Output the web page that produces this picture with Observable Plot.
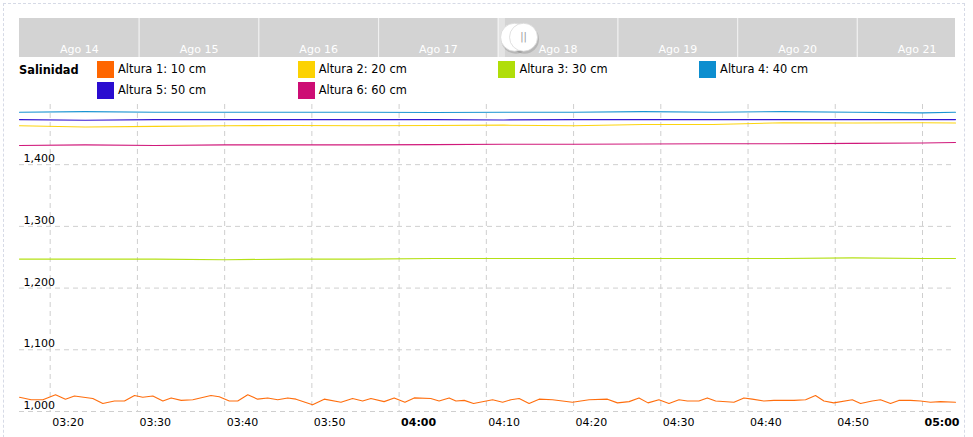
<!DOCTYPE html>
<html><head><meta charset="utf-8">
<script src="https://cdn.jsdelivr.net/npm/d3@7"></script>
<script src="https://cdn.jsdelivr.net/npm/@observablehq/plot@0.6"></script>
<style>
html,body{margin:0;padding:0;background:#fff;}
body{width:973px;height:437px;overflow:hidden;position:relative;font-family:"DejaVu Sans",Verdana,sans-serif;font-size:11px;color:#000;}
#frame{position:absolute;left:3px;top:3px;width:962px;height:480px;border:1px dashed #d6dae6;box-sizing:border-box;}
#nav{position:absolute;left:0;top:18px;}
#chart{position:absolute;left:0;top:100px;}
.lg-title{position:absolute;left:19px;top:63px;font-weight:bold;line-height:14px;font-size:11.4px;}
.lg-item{position:absolute;height:17px;line-height:17px;white-space:nowrap;font-size:11.4px;}
.lg-sw{position:absolute;left:0;top:0;width:17px;height:17px;}
.lg-tx{position:absolute;left:21px;top:0;}
svg{overflow:visible;}
</style></head>
<body>
<div id="frame"></div>
<div id="nav"></div>
<div id="legend"></div>
<div id="chart"></div>
<script>
// ---- data ----
const legendTitle = "Salinidad";
const seriesNames = ["Altura 1: 10 cm","Altura 2: 20 cm","Altura 3: 30 cm","Altura 4: 40 cm","Altura 5: 50 cm","Altura 6: 60 cm"];
const seriesColors = ["#FF6600","#FCD202","#B0DE09","#0D8ECF","#2A0CD0","#CD0D74"];

// Altura 1 (10 cm): readings
const times1 = ["03:16:29","03:17:49","03:19:10","03:20:37","03:21:45","03:22:47","03:24:53","03:26:02","03:27:22","03:28:31",
 "03:29:40","03:30:37","03:31:46","03:32:55","03:33:52","03:35:01","03:36:21","03:38:26","03:39:23","03:40:32",
 "03:41:30","03:42:39","03:43:47","03:44:56","03:46:05","03:47:14","03:48:11","03:50:05","03:51:25","03:53:20",
 "03:54:40","03:55:49","03:56:46","03:58:17","03:59:26","04:00:40","04:01:44","04:03:38","04:04:35","04:05:44",
 "04:06:31","04:07:28","04:08:32","04:10:43","04:11:52","04:12:49","04:13:46","04:14:54","04:16:03","04:17:35",
 "04:19:52","04:21:47","04:23:53","04:25:02","04:26:22","04:27:30","04:28:32","04:29:47","04:30:56","04:32:05",
 "04:33:03","04:34:22","04:35:20","04:36:17","04:38:23","04:39:32","04:40:29","04:41:49","04:42:58","04:45:16",
 "04:46:36","04:47:44","04:48:42","04:49:50","04:51:57","04:52:54","04:54:14","04:55:11","04:56:20","04:57:17",
 "04:58:38","04:59:46","05:00:55","05:02:04","05:03:47"];
const altura1 = [1023,1019,1019,1027,1020,1025,1021,1013,1017,1017,
 1026,1023,1025,1017,1022,1018,1019,1026,1024,1017,
 1017,1027,1020,1022,1019,1022,1020,1011,1020,1015,
 1021,1017,1021,1016,1022,1015,1022,1021,1017,1022,
 1017,1018,1013,1019,1015,1019,1021,1013,1020,1019,
 1015,1019,1020,1014,1016,1022,1014,1019,1013,1019,
 1017,1017,1022,1017,1015,1022,1020,1017,1018,1018,
 1019,1026,1017,1014,1019,1013,1017,1019,1013,1018,
 1018,1017,1015,1016,1015];

// Alturas 2-6: readings
const timesB = ["03:16:29","03:24:00","03:32:00","03:40:00","03:48:00","03:56:00","04:04:00","04:12:00",
 "04:20:00","04:28:00","04:36:00","04:44:00","04:52:00","05:00:00","05:03:47"];
const altura2 = [1463,1461,1462,1463,1463.5,1463,1463.5,1464,1463,1465,1465,1468,1467.5,1468,1467.5];
const altura3 = [1247,1247,1247,1246,1247,1247,1248,1248,1248,1248,1248,1248,1249,1248,1248];
const altura4 = [1485,1486,1485,1485,1485,1485,1484.5,1485,1485,1486,1485,1486,1485,1484,1485];
const altura5 = [1473,1472,1473,1473,1473,1473,1473,1472.5,1473,1473,1473,1473,1473,1473,1473];
const altura6 = [1431,1432,1431,1432,1432,1432,1432.5,1433,1433,1433.5,1434,1434,1434.5,1435,1436];

const xDomain = ["03:16:29","05:03:47"];
const yDomain = [1000, 1497.5];
const yTicks = [1000,1100,1200,1300,1400];
const xTicks = ["03:20","03:30","03:40","03:50","04:00","04:10","04:20","04:30","04:40","04:50","05:00"];
const xTicksBold = ["04:00","05:00"];

// navigator
const navDays = ["Ago 14","Ago 15","Ago 16","Ago 17","Ago 18","Ago 19","Ago 20","Ago 21"];
const navSpanDays = [0, 7.82];
const navSelectedDay = 4;            // Ago 18
const navHighlight = [4.0, 4.06];
const navHandles = ["03:16:29","05:03:47"];

// ---- helpers ----
const parseT = s => { const [h,m,sec=0] = s.split(":").map(Number); return new Date(Date.UTC(2015,7,18,h,m,sec)); };
const dayFrac = s => { const [h,m,sec=0] = s.split(":").map(Number); return (h*3600+m*60+sec)/86400; };
const FONT = '"DejaVu Sans", Verdana, sans-serif';

// ---- legend ----
const legend = document.getElementById("legend");
const t = document.createElement("div"); t.className="lg-title"; t.textContent = legendTitle; legend.appendChild(t);
seriesNames.forEach((n,i)=>{
  const col = i % 4, row = Math.floor(i/4);
  const it = document.createElement("div"); it.className="lg-item";
  it.style.left = (97 + col*200.7) + "px"; it.style.top = (61 + row*21) + "px";
  const sw = document.createElement("div"); sw.className="lg-sw"; sw.style.background = seriesColors[i];
  const tx = document.createElement("div"); tx.className="lg-tx"; tx.textContent = n;
  it.appendChild(sw); it.appendChild(tx); legend.appendChild(it);
});

// ---- navigator ----
const handleX = navHandles.map(s => navSelectedDay + dayFrac(s));
const nav = Plot.plot({
  width: 973, height: 39, marginLeft: 19, marginRight: 18, marginTop: 0, marginBottom: 0,
  x: {domain: navSpanDays, axis: null},
  y: {domain: [0, 1], axis: null},
  style: {fontFamily: FONT, fontSize: "11px", background: "transparent"},
  marks: [
    Plot.rect(navDays, {x1: (d,i)=>i, x2: (d,i)=>i+1, y1: 0, y2: 1, fill: "#d3d3d3", clip: true}),
    Plot.rect([navHighlight], {x1: d=>d[0], x2: d=>d[1], y1: 0, y2: 1, fill: "#e3e3e3"}),
    Plot.ruleX(navDays.slice(1), {x: (d,i)=>i+1, stroke: "#f4f4f4", strokeWidth: 1}),
    Plot.text(navDays, {x: (d,i)=>i+0.5, y: 0, text: d=>d, fill: "#fff", dy: -8, fontSize: 11, clip: true}),
    Plot.dot(handleX, {x: d=>d, y: 0.52, r: 14.5, fill: "#000", fillOpacity: 0.13, dx: 1, dy: 2}),
    Plot.dot(handleX, {x: d=>d, y: 0.52, r: 14, fill: "#fff", stroke: "#d8d8d8", strokeWidth: 0.8}),
    Plot.text(handleX.slice(-1), {x: d=>d, y: 0.52, text: ()=>"||", fill: "#999", fontSize: 10})
  ]
});
document.getElementById("nav").appendChild(nav);

// ---- main chart ----
const rows = [];
times1.forEach((s,i)=>rows.push({t: parseT(s), v: altura1[i], s: seriesNames[0]}));
[altura2, altura3, altura4, altura5, altura6].forEach((arr,k)=>{
  timesB.forEach((s,i)=>rows.push({t: parseT(s), v: arr[i], s: seriesNames[k+1]}));
});
const fmt = d3.format(",");
const chart = Plot.plot({
  width: 973, height: 337, marginLeft: 19, marginRight: 18, marginTop: 4, marginBottom: 26,
  x: {type: "utc", domain: xDomain.map(parseT), axis: null},
  y: {domain: yDomain, axis: null},
  color: {domain: seriesNames, range: seriesColors},
  style: {fontFamily: FONT, fontSize: "11px", color: "#000", background: "transparent"},
  marks: [
    Plot.ruleY(yTicks, {y: d=>d, stroke: "#cfcfcf", strokeDasharray: "5,4"}),
    Plot.ruleX(xTicks, {x: parseT, stroke: "#cfcfcf", strokeDasharray: "5,4"}),
    Plot.text(yTicks, {y: d=>d, text: d=>fmt(d), frameAnchor: "left", textAnchor: "start", dx: 4, dy: -6, fill: "#000"}),
    Plot.text(xTicks.filter(d=>!xTicksBold.includes(d)), {x: parseT, text: d=>d, frameAnchor: "bottom", textAnchor: "start", dx: 2, dy: 14, fill: "#000"}),
    Plot.text(xTicksBold, {x: parseT, text: d=>d, frameAnchor: "bottom", textAnchor: "start", dx: 2, dy: 14, fill: "#000", fontWeight: "bold"}),
    Plot.line(rows, {x: "t", y: "v", z: "s", stroke: "s", strokeWidth: 1.1, strokeOpacity: 0.95})
  ]
});
document.getElementById("chart").appendChild(chart);
</script>
</body></html>
